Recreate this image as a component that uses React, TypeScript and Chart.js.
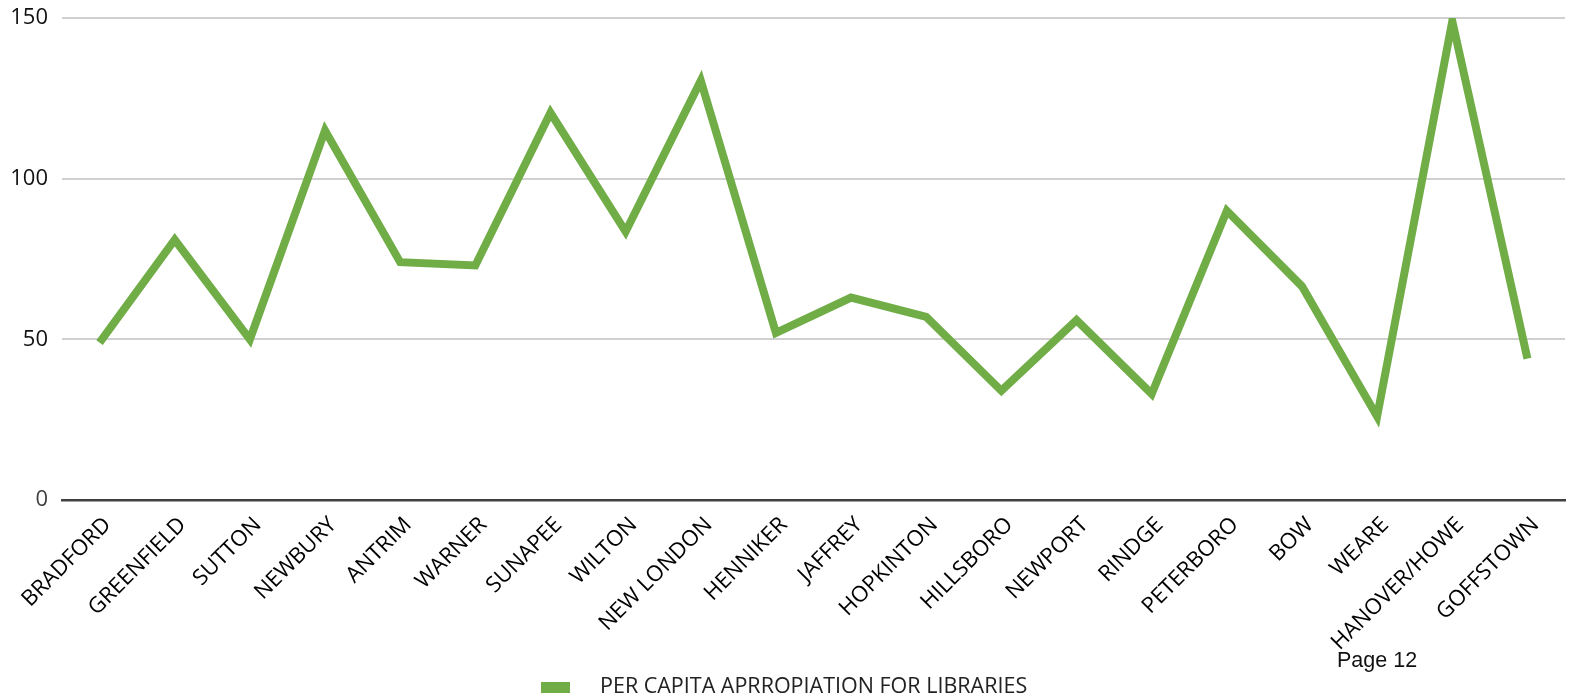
import React, { useEffect, useRef } from "react";
import { Chart, registerables } from "chart.js";

Chart.register(...registerables);

const towns = [
  "BRADFORD", "GREENFIELD", "SUTTON", "NEWBURY", "ANTRIM", "WARNER", "SUNAPEE",
  "WILTON", "NEW LONDON", "HENNIKER", "JAFFREY", "HOPKINTON", "HILLSBORO",
  "NEWPORT", "RINDGE", "PETERBORO", "BOW", "WEARE", "HANOVER/HOWE", "GOFFSTOWN",
];
const perCapita = [
  49, 81, 50, 115, 74, 73, 120.5, 83.5, 130.5, 52, 63, 57, 34, 56, 33, 90, 66.5, 26, 149, 44,
];
const yTickValues = [0, 50, 100, 150];
const seriesLabel = "PER CAPITA APRROPIATION FOR LIBRARIES";
const pageLabel = "Page 12";
const lineColor = "#70ad47";

export default function App() {
  const ref = useRef<HTMLCanvasElement>(null);

  useEffect(() => {
    const canvas = ref.current;
    if (!canvas) return;
    const chart = new Chart(canvas, {
      type: "line",
      data: {
        labels: towns,
        datasets: [
          {
            label: seriesLabel,
            data: perCapita,
            borderColor: lineColor,
            backgroundColor: lineColor,
            borderWidth: 8,
            pointRadius: 0,
            pointHoverRadius: 0,
            tension: 0,
            fill: false,
            borderJoinStyle: "miter",
            borderCapStyle: "butt",
          },
        ],
      },
      options: {
        animation: false,
        responsive: false,
        maintainAspectRatio: false,
        layout: { padding: { top: 18, right: 7, left: 0, bottom: 0 } },
        plugins: {
          legend: { display: false },
          tooltip: { enabled: false },
        },
        scales: {
          x: {
            offset: true,
            grid: { display: false },
            border: { display: true, color: "#404040", width: 2.5 },
            ticks: {
              autoSkip: false,
              maxRotation: 45,
              minRotation: 45,
              color: "#000",
              padding: 4,
              labelOffset: 8,
              font: { family: "'Open Sans'", size: 22 },
            },
            afterFit: (s: any) => {
              s.height = 196;
              s.paddingTop = 0;
              s.paddingBottom = 0;
            },
          },
          y: {
            min: yTickValues[0],
            max: yTickValues[yTickValues.length - 1],
            afterBuildTicks: (s: any) => {
              s.ticks = yTickValues.map((v) => ({ value: v }));
            },
            grid: { color: "#d0d0d0", lineWidth: 2, drawTicks: false },
            border: { display: false },
            ticks: {
              color: (c: any) => (c.tick && c.tick.value === 0 ? "#404040" : "#111"),
              padding: 14,
              font: { family: "'Open Sans'", size: 22 },
            },
            afterFit: (s: any) => {
              s.width = 62;
              s.paddingTop = 0;
              s.paddingBottom = 0;
            },
          },
        },
      },
    });
    return () => chart.destroy();
  }, []);

  return (
    <div
      style={{
        position: "absolute",
        left: 0,
        top: 0,
        width: 1572,
        height: 696,
        overflow: "hidden",
        background: "#fff",
      }}
    >
      <canvas ref={ref} width={1572} height={696} style={{ width: 1572, height: 696, display: "block" }} />
      <div
        style={{
          position: "absolute",
          left: 1337,
          top: 648,
          fontFamily: "'Liberation Sans', Arial, sans-serif",
          fontSize: 21.5,
          color: "#111",
          whiteSpace: "nowrap",
        }}
      >
        {pageLabel}
      </div>
      <div
        style={{
          position: "absolute",
          left: 541,
          top: 682,
          width: 29,
          height: 11,
          background: lineColor,
        }}
      />
      <div
        style={{
          position: "absolute",
          left: 600,
          top: 670,
          fontFamily: "'Open Sans', sans-serif",
          fontSize: 21.5,
          color: "#222",
          whiteSpace: "nowrap",
        }}
      >
        {seriesLabel}
      </div>
    </div>
  );
}
